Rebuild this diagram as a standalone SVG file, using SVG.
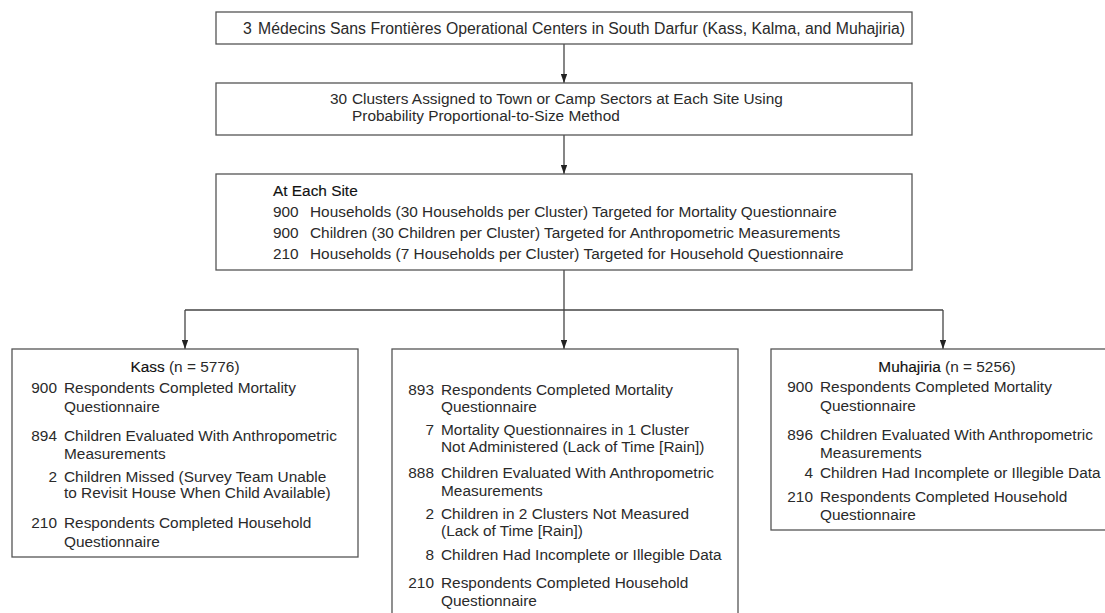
<svg xmlns="http://www.w3.org/2000/svg" width="1105" height="613" viewBox="0 0 1105 613">
<defs>
<style>
.box{fill:#fff;stroke:#555;stroke-width:1.3}
.t{font-family:"Liberation Sans",Arial,Helvetica,sans-serif;font-size:15.4px;fill:#2a2a2a}
.big{font-size:15.8px}
.n{text-anchor:end}
.h{fill:#111;stroke:#111;stroke-width:0.15}
.c{text-anchor:middle}
.ln{fill:none;stroke:#444;stroke-width:1.3}
</style>
<marker id="ar" viewBox="0 0 10 7" refX="10" refY="3.5" markerWidth="9" markerHeight="6.3" markerUnits="userSpaceOnUse" orient="auto">
<path d="M0,0 L10,3.5 L0,7 z" fill="#222"/>
</marker>
</defs>
<rect width="1105" height="613" fill="#fff"/>
<g id="connectors">
<line class="ln" x1="564" y1="44" x2="564" y2="83" marker-end="url(#ar)"/>
<line class="ln" x1="564" y1="135" x2="564" y2="174" marker-end="url(#ar)"/>
<line class="ln" x1="564" y1="270" x2="564" y2="349" marker-end="url(#ar)"/>
<line class="ln" x1="185" y1="310" x2="943" y2="310"/>
<line class="ln" x1="185" y1="310" x2="185" y2="349" marker-end="url(#ar)"/>
<line class="ln" x1="943" y1="310" x2="943" y2="349" marker-end="url(#ar)"/>
</g>
<g id="n1">
<rect class="box" x="216" y="12" width="696" height="32"/>
<text class="t big" x="243" y="34">3</text>
<text class="t big" x="258" y="34">Médecins Sans Frontières Operational Centers in South Darfur (Kass, Kalma, and Muhajiria)</text>
</g>
<g id="n2">
<rect class="box" x="216" y="83" width="696" height="52"/>
<text class="t n" x="347" y="104">30</text>
<text class="t" x="352" y="104">Clusters Assigned to Town or Camp Sectors at Each Site Using</text>
<text class="t" x="352" y="121">Probability Proportional-to-Size Method</text>
</g>
<g id="n3">
<rect class="box" x="216" y="174" width="696" height="96"/>
<text class="t h" x="273" y="196">At Each Site</text>
<text class="t" x="273" y="217">900</text><text class="t" x="310" y="217">Households (30 Households per Cluster) Targeted for Mortality Questionnaire</text>
<text class="t" x="273" y="238">900</text><text class="t" x="310" y="238">Children (30 Children per Cluster) Targeted for Anthropometric Measurements</text>
<text class="t" x="273" y="259">210</text><text class="t" x="310" y="259">Households (7 Households per Cluster) Targeted for Household Questionnaire</text>
</g>
<g id="kass">
<rect class="box" x="12" y="349" width="346" height="208"/>
<text class="t c" x="185" y="372"><tspan class="h">Kass</tspan> (n = 5776)</text>
<text class="t n" x="57" y="393">900</text><text class="t" x="64" y="393">Respondents Completed Mortality</text>
<text class="t" x="64" y="411.5">Questionnaire</text>
<text class="t n" x="57" y="440.5">894</text><text class="t" x="64" y="440.5">Children Evaluated With Anthropometric</text>
<text class="t" x="64" y="459">Measurements</text>
<text class="t n" x="57" y="481.5">2</text><text class="t" x="64" y="481.5">Children Missed (Survey Team Unable</text>
<text class="t" x="64" y="498">to Revisit House When Child Available)</text>
<text class="t n" x="57" y="527.5">210</text><text class="t" x="64" y="527.5">Respondents Completed Household</text>
<text class="t" x="64" y="546.5">Questionnaire</text>
</g>
<g id="kalma">
<rect class="box" x="392" y="349" width="346" height="280"/>
<text class="t n" x="434" y="395">893</text><text class="t" x="441" y="395">Respondents Completed Mortality</text>
<text class="t" x="441" y="412">Questionnaire</text>
<text class="t n" x="434" y="434.5">7</text><text class="t" x="441" y="434.5">Mortality Questionnaires in 1 Cluster</text>
<text class="t" x="441" y="452">Not Administered (Lack of Time [Rain])</text>
<text class="t n" x="434" y="477.5">888</text><text class="t" x="441" y="477.5">Children Evaluated With Anthropometric</text>
<text class="t" x="441" y="496">Measurements</text>
<text class="t n" x="434" y="518.5">2</text><text class="t" x="441" y="518.5">Children in 2 Clusters Not Measured</text>
<text class="t" x="441" y="536">(Lack of Time [Rain])</text>
<text class="t n" x="434" y="559.5">8</text><text class="t" x="441" y="559.5">Children Had Incomplete or Illegible Data</text>
<text class="t n" x="434" y="587.5">210</text><text class="t" x="441" y="587.5">Respondents Completed Household</text>
<text class="t" x="441" y="606">Questionnaire</text>
</g>
<g id="muhajiria">
<rect class="box" x="771" y="349" width="350" height="181"/>
<text class="t c" x="947" y="372"><tspan class="h">Muhajiria</tspan> (n = 5256)</text>
<text class="t n" x="813" y="392">900</text><text class="t" x="820" y="392">Respondents Completed Mortality</text>
<text class="t" x="820" y="410.5">Questionnaire</text>
<text class="t n" x="813" y="440">896</text><text class="t" x="820" y="440">Children Evaluated With Anthropometric</text>
<text class="t" x="820" y="458">Measurements</text>
<text class="t n" x="813" y="478">4</text><text class="t" x="820" y="478">Children Had Incomplete or Illegible Data</text>
<text class="t n" x="813" y="502">210</text><text class="t" x="820" y="502">Respondents Completed Household</text>
<text class="t" x="820" y="520">Questionnaire</text>
</g>
</svg>
